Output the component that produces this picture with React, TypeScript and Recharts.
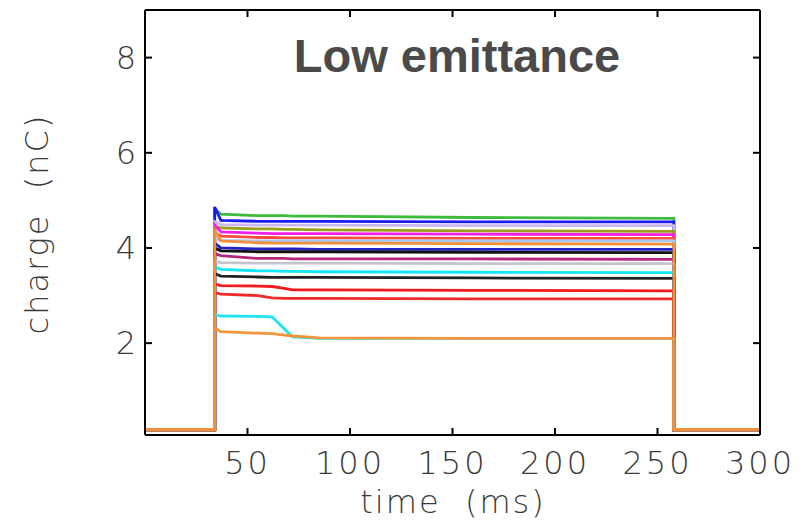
import React from 'react'
import { LineChart, Line, XAxis, YAxis } from 'recharts'

// sample times (ms); repeated times give the vertical edges of the pulse
const times = [0, 34, 34, 37, 55, 62, 68, 72, 85, 160, 258, 258, 300]

const base = 0.18

// charge (nC) per shot, one value per entry of `times`
const greenShot = [base, base, 4.82, 4.71, 4.68, 4.68, 4.68, 4.67, 4.67, 4.64, 4.62, base, base]
const blueShot = [base, base, 4.86, 4.58, 4.56, 4.56, 4.56, 4.56, 4.56, 4.55, 4.55, base, base]
const lavenderShot = [base, base, 4.55, 4.49, 4.48, 4.48, 4.48, 4.48, 4.48, 4.47, 4.47, base, base]
const oliveShot = [base, base, 4.46, 4.42, 4.4, 4.4, 4.39, 4.39, 4.38, 4.36, 4.35, base, base]
const magentaShot = [base, base, 4.48, 4.34, 4.31, 4.3, 4.3, 4.3, 4.3, 4.29, 4.28, base, base]
const orangeRedShot = [base, base, 4.32, 4.25, 4.22, 4.22, 4.21, 4.21, 4.21, 4.2, 4.2, base, base]
const skyShot = [base, base, 4.2, 4.16, 4.15, 4.15, 4.15, 4.15, 4.15, 4.15, 4.15, base, base]
const navyShot = [base, base, 4.1, 4.0, 3.98, 3.98, 3.98, 3.98, 3.97, 3.97, 3.97, base, base]
const blackShot = [base, base, 4.0, 3.94, 3.92, 3.92, 3.92, 3.92, 3.92, 3.91, 3.9, base, base]
const maroonShot = [base, base, 3.88, 3.84, 3.78, 3.78, 3.78, 3.77, 3.77, 3.77, 3.76, base, base]
const greyShot = [base, base, 3.72, 3.69, 3.68, 3.68, 3.68, 3.68, 3.68, 3.67, 3.67, base, base]
const cyanShot = [base, base, 3.6, 3.55, 3.52, 3.52, 3.51, 3.51, 3.5, 3.49, 3.48, base, base]
const charcoalShot = [base, base, 3.46, 3.41, 3.39, 3.38, 3.38, 3.38, 3.38, 3.37, 3.36, base, base]
const redShot = [base, base, 3.24, 3.21, 3.2, 3.19, 3.15, 3.12, 3.12, 3.11, 3.1, base, base]
const crimsonShot = [base, base, 3.06, 3.03, 3.0, 2.95, 2.94, 2.94, 2.94, 2.93, 2.93, base, base]
const lowCyanShot = [base, base, 2.6, 2.57, 2.56, 2.55, 2.3, 2.13, 2.1, 2.1, 2.1, base, base]
const sandyShot = [base, base, 2.32, 2.24, 2.21, 2.2, 2.17, 2.15, 2.11, 2.1, 2.1, base, base]
const orangeShot = [base, base, 4.38, 4.15, 4.11, 4.1, 4.1, 4.1, 4.1, 4.09, 4.08, base, base]

const shots = [
  { key: 'green', color: '#3dbb3d', values: greenShot },
  { key: 'blue', color: '#1a1af2', values: blueShot },
  { key: 'lavender', color: '#c9b8f2', values: lavenderShot },
  { key: 'olive', color: '#9c9c1c', values: oliveShot },
  { key: 'magenta', color: '#f01ee6', values: magentaShot },
  { key: 'orangeRed', color: '#ff4d3d', values: orangeRedShot },
  { key: 'sky', color: '#a8c8f4', values: skyShot },
  { key: 'navy', color: '#2222c8', values: navyShot },
  { key: 'black', color: '#111111', values: blackShot },
  { key: 'maroon', color: '#b5267c', values: maroonShot },
  { key: 'grey', color: '#c4c4cc', values: greyShot },
  { key: 'cyan', color: '#14e6f4', values: cyanShot },
  { key: 'charcoal', color: '#222222', values: charcoalShot },
  { key: 'red', color: '#f21a1a', values: redShot },
  { key: 'crimson', color: '#f02a2a', values: crimsonShot },
  { key: 'lowCyan', color: '#22e4f2', values: lowCyanShot },
  { key: 'sandy', color: '#f2953e', values: sandyShot },
  { key: 'orange', color: '#f0903a', values: orangeShot },
]

const xTicks = [50, 100, 150, 200, 250, 300]
const yTicks = [2, 4, 6, 8]

const rows = times.map((t, i) => {
  const row: Record<string, number> = { t }
  shots.forEach(s => { row[s.key] = s.values[i] })
  return row
})

const labelFont = "'DejaVu Sans', sans-serif"
const inkColor = '#3a3a3a'

const BottomTick = (props: any) => {
  const { x, y, payload } = props
  return (
    <g>
      <line x1={x} y1={y} x2={x} y2={y - 7} stroke="#000" strokeWidth={2} />
      <text x={x} y={y + 39} textAnchor="middle" fill={inkColor}
        style={{ fontFamily: labelFont, fontWeight: 200, fontSize: 32, letterSpacing: 3 }}>
        {payload.value}
      </text>
    </g>
  )
}

const TopTick = (props: any) => {
  const { x, y } = props
  return <line x1={x} y1={y} x2={x} y2={y + 7} stroke="#000" strokeWidth={2} />
}

const LeftTick = (props: any) => {
  const { x, y, payload } = props
  return (
    <g>
      <line x1={x} y1={y} x2={x + 7} y2={y} stroke="#000" strokeWidth={2} />
      <text x={x - 9} y={y + 11} textAnchor="end" fill={inkColor}
        style={{ fontFamily: labelFont, fontWeight: 200, fontSize: 32 }}>
        {payload.value}
      </text>
    </g>
  )
}

const RightTick = (props: any) => {
  const { x, y } = props
  return <line x1={x} y1={y} x2={x - 7} y2={y} stroke="#000" strokeWidth={2} />
}

const axisStroke = { stroke: '#000', strokeWidth: 2 }

export default function App() {
  return (
    <div style={{ position: 'fixed', left: 0, top: 0, width: 806, height: 526, background: '#fff' }}>
      <LineChart width={806} height={526} data={rows}
        margin={{ top: 9, right: 45, bottom: 90, left: 144 }}>
        <XAxis dataKey="t" type="number" domain={[0, 300]} ticks={xTicks} interval={0}
          height={1} tickSize={0} tickMargin={0} tickLine={false}
          axisLine={axisStroke} tick={<BottomTick />} />
        <XAxis xAxisId="top" orientation="top" dataKey="t" type="number" domain={[0, 300]}
          ticks={xTicks} interval={0} height={1} tickSize={0} tickMargin={0} tickLine={false}
          axisLine={axisStroke} tick={<TopTick />} />
        <YAxis type="number" domain={[0.07, 9]} ticks={yTicks} interval={0} width={1}
          tickSize={0} tickMargin={0} tickLine={false} allowDataOverflow
          axisLine={axisStroke} tick={<LeftTick />} />
        <YAxis yAxisId="right" orientation="right" type="number" domain={[0.07, 9]} ticks={yTicks}
          interval={0} width={1} tickSize={0} tickMargin={0} tickLine={false} allowDataOverflow
          axisLine={axisStroke} tick={<RightTick />} />
        {shots.map(s => (
          <Line key={s.key} dataKey={s.key} type="linear" stroke={s.color} strokeWidth={2.8}
            dot={false} activeDot={false} isAnimationActive={false} />
        ))}
      </LineChart>
      <div style={{
        position: 'absolute', left: 457, top: 30, transform: 'translateX(-50%)', whiteSpace: 'nowrap',
        fontFamily: "'Liberation Sans', Arial, sans-serif", fontWeight: 700, fontSize: 47, color: '#4a4a4a', lineHeight: '52px'
      }}>Low emittance</div>
      <div style={{
        position: 'absolute', left: 453, top: 482, transform: 'translateX(-50%)', whiteSpace: 'pre',
        fontFamily: labelFont, fontWeight: 200, fontSize: 32, color: inkColor, lineHeight: '40px', letterSpacing: 2
      }}>{'time  (ms)'}</div>
      <div style={{
        position: 'absolute', left: 37, top: 224, transform: 'translate(-50%, -50%) rotate(-90deg)', whiteSpace: 'pre',
        fontFamily: labelFont, fontWeight: 200, fontSize: 32, color: inkColor, lineHeight: '40px', letterSpacing: 2
      }}>{'charge  (nC)'}</div>
    </div>
  )
}
